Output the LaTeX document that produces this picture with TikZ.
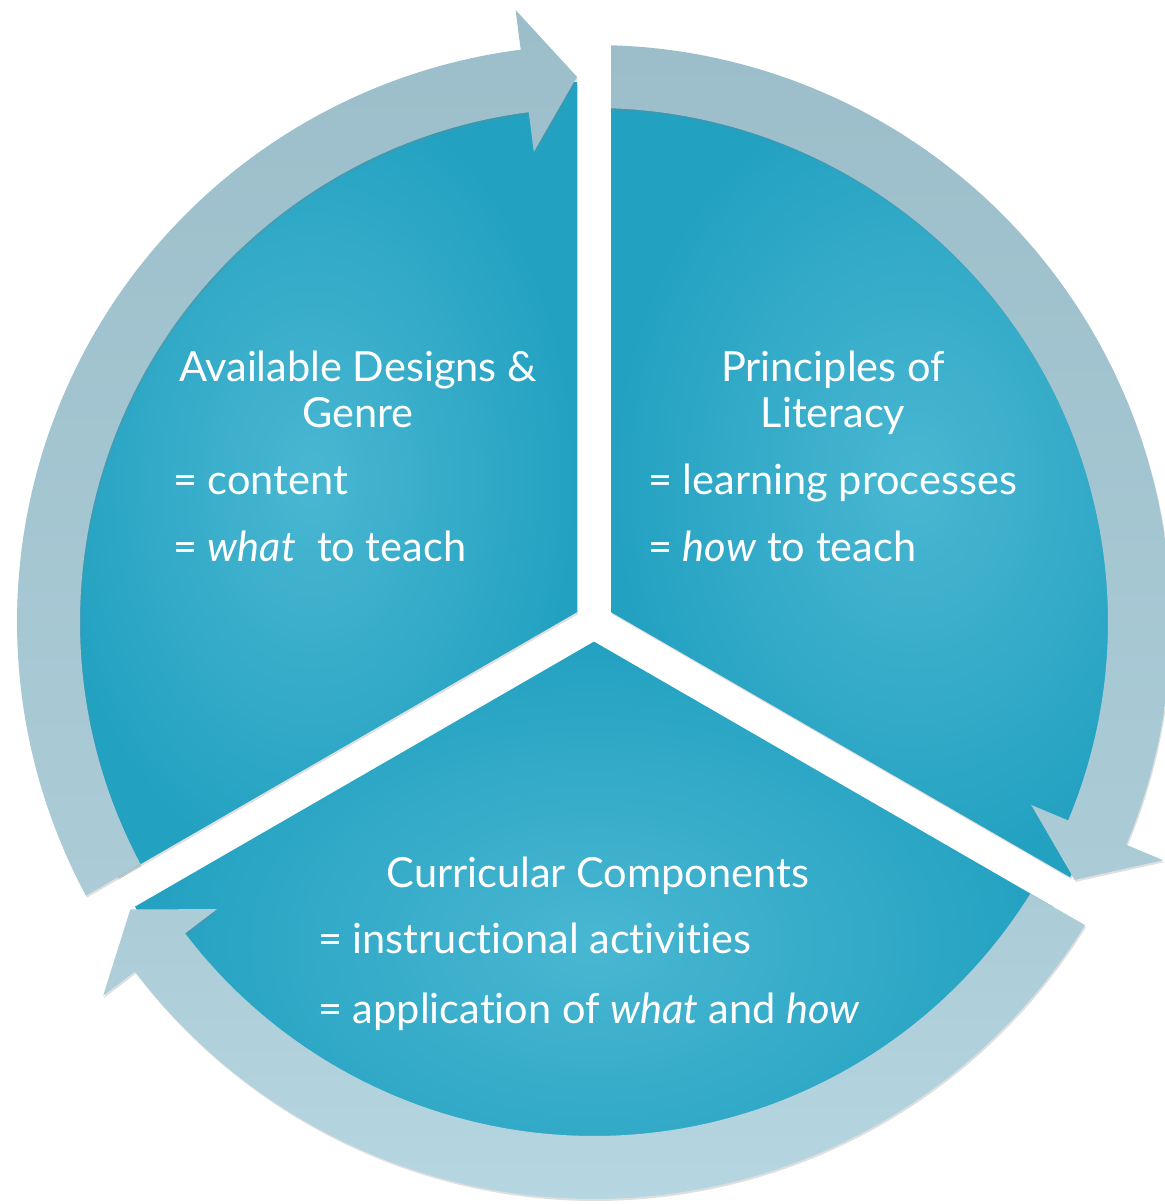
\documentclass[tikz,border=0pt]{standalone}
\usepackage{fontspec}
\setmainfont{Lato}[Ligatures = NoCommon]
\usetikzlibrary{shadows}
\definecolor{wedgelight}{HTML}{49B7D2}
\definecolor{wedgedark}{HTML}{23A1C1}
\definecolor{ringdark}{HTML}{9BBECA}
\definecolor{ringmid}{HTML}{ABCCD7}
\definecolor{ringlight}{HTML}{B6D7E2}
\begin{document}
\begin{tikzpicture}[x = 1pt, y = 1pt,
	piece/.style = {inner color = wedgelight, outer color = wedgedark,
		drop shadow = {opacity = 0.25, shadow xshift = 1pt, shadow yshift = -2pt}},
	ringarrow/.style = {drop shadow = {opacity = 0.25, shadow xshift = 1pt, shadow yshift = -2pt}},
	txt/.style = {text = white, inner sep = 0pt, font = \fontsize{41.5}{48}\selectfont}]
		\useasboundingbox (-594,-582) rectangle (570,622);
		% three pieces of the pie, pushed apart
		\path[piece, shift = {(150:19.63)}] (0,0) -- (90:530) arc[start angle = 90, end angle = 210, radius = 530] -- cycle;
		\path[piece, shift = {(30:19.63)}] (0,0) -- (-30:530) arc[start angle = -30, end angle = 90, radius = 530] -- cycle;
		\path[piece, shift = {(270:19.63)}] (0,0) -- (210:530) arc[start angle = 210, end angle = 330, radius = 530] -- cycle;
		% arrows round the outside
		\path[ringarrow, top color = ringdark, bottom color = ringmid] (208.31:577) arc[start angle = 208.31, end angle = 97.3, radius = 577] -- (97.3:617) -- (91.79:545.5) -- (97.3:474) -- (97.3:514) arc[start angle = 97.3, end angle = 208.1, radius = 514] -- cycle;
		\path[ringarrow, top color = ringdark, bottom color = ringmid] (88.31:577) arc[start angle = 88.31, end angle = -22.71, radius = 577] -- (-22.71:617) -- (-28.21:545.5) -- (-22.71:474) -- (-22.71:514) arc[start angle = -22.71, end angle = 88.1, radius = 514] -- cycle;
		\path[ringarrow, top color = ringmid, bottom color = ringlight] (-31.69:577) arc[start angle = -31.69, end angle = -142.71, radius = 577] -- (-142.71:617) -- (-148.21:545.5) -- (-142.71:474) -- (-142.71:514) arc[start angle = -142.71, end angle = -31.9, radius = 514] -- cycle;
		% texts
		\node[txt, anchor = base] (designs) at (-236,240) {Available Designs \&};
		\node[txt, anchor = base] (genre) at (-236,194) {Genre};
		\node[txt, anchor = base west] (content) at (-421,127) {= content};
		\node[txt, anchor = base west] (whatteach) at (-421,60) {= \textit{what}\ \ to teach};
		\node[txt, anchor = base] (principles) at (239,240) {Principles of};
		\node[txt, anchor = base] (literacy) at (239,194) {Literacy};
		\node[txt, anchor = base west] (processes) at (54,127) {= learning processes};
		\node[txt, anchor = base west] (howteach) at (54,60) {= \textit{how} to teach};
		\node[txt, anchor = base] (curricular) at (4,-265) {Curricular Components};
		\node[txt, anchor = base west] (activities) at (-276,-331) {= instructional activities};
		\node[txt, anchor = base west] (application) at (-276,-401) {= application of \textit{what} and \textit{how}};
	\end{tikzpicture}
\end{document}
